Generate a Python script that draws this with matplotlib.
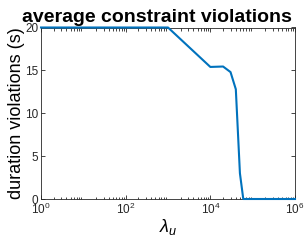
import matplotlib
matplotlib.use('Agg')
import matplotlib.pyplot as plt
import numpy as np

plt.rcParams['font.family'] = ['Liberation Sans', 'DejaVu Sans']
plt.rcParams['mathtext.fontset'] = 'custom'
plt.rcParams['mathtext.it'] = 'Liberation Sans:italic'
plt.rcParams['mathtext.rm'] = 'Liberation Sans'

# lambda_u values and average duration violations
lam = [1, 10, 100, 1000, 1e4, 2e4, 3e4, 4e4, 5e4, 6e4, 1e5, 1e6]
viol = [20, 20, 20, 20, 15.4, 15.45, 14.8, 12.8, 3.0, 0, 0, 0]

fig = plt.figure(figsize=(3.05, 2.40), dpi=100)
ax = fig.add_axes([41/305, 1 - 199/240, (295-41)/305, (199-27.5)/240])

ax.semilogx(lam, viol, color='#0072BD', linewidth=1.5, clip_on=False, zorder=3)
ax.set_xlim(1, 1e6)
ax.set_ylim(0, 20)
ax.set_xticks([1, 1e2, 1e4, 1e6])
ax.set_yticks([0, 5, 10, 15, 20])
ax.tick_params(which='both', direction='in', top=True, right=True, labelsize=8.5,
               colors='#262626', width=0.6, pad=2)
ax.tick_params(which='major', length=3)
ax.tick_params(which='minor', length=1.8)
for s in ax.spines.values():
    s.set_linewidth(0.6)
    s.set_color('#262626')

ax.set_xlabel(r'$\lambda_u$', fontsize=13, labelpad=0)
ax.set_ylabel('duration violations (s)', fontsize=13, labelpad=0)
# title sits a bit left of centre, as in the original
ax.set_title('average constraint violations', fontsize=14, fontweight='bold', pad=4, x=0.455)

plt.savefig('out.png', dpi=100)
